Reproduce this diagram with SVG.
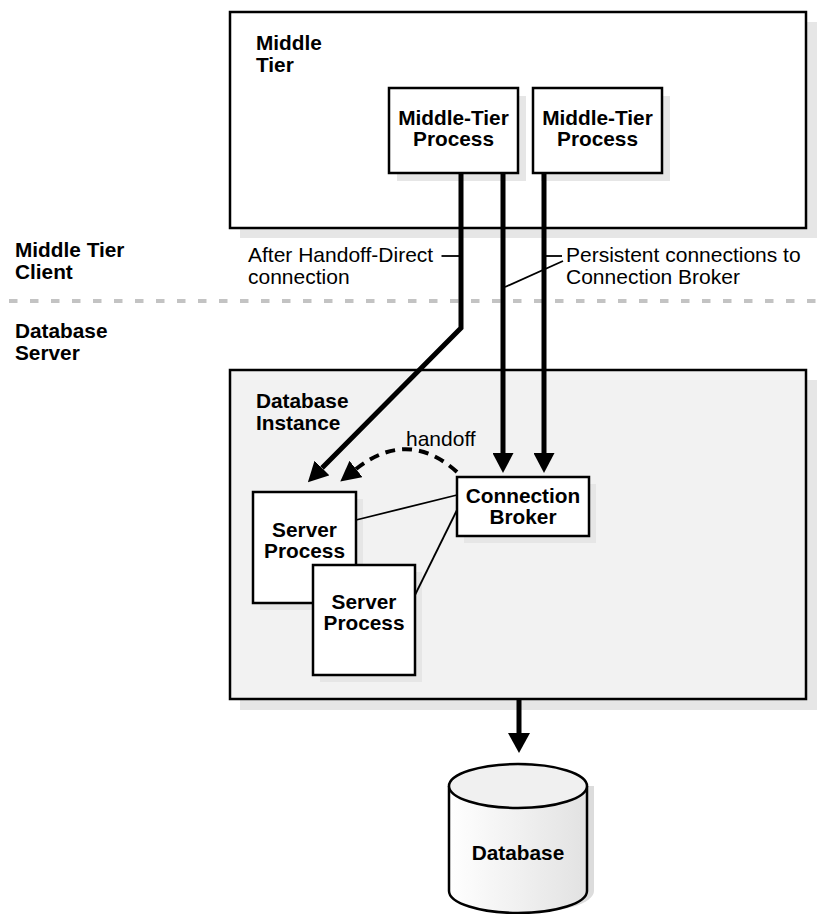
<svg xmlns="http://www.w3.org/2000/svg" width="817" height="914" viewBox="0 0 817 914">
<defs>
<style>
.b{font-family:"Liberation Sans",Arial,sans-serif;font-weight:bold;font-size:20.8px;fill:#000}
.r{font-family:"Liberation Sans",Arial,sans-serif;font-size:21px;fill:#000}
.m{text-anchor:middle}
.box{fill:#fff;stroke:#000;stroke-width:2.5}
.sh{fill:#e6e6e6}
.thick{fill:none;stroke:#000;stroke-width:5}
.thin{fill:none;stroke:#000;stroke-width:1.8}
</style>
<marker id="ah" markerUnits="userSpaceOnUse" markerWidth="20" markerHeight="21" refX="0" refY="10.5" orient="auto" viewBox="0 0 20 21">
<path d="M0,0 L20,10.5 L0,21 z" fill="#000"/>
</marker>
<marker id="ah2" markerUnits="userSpaceOnUse" markerWidth="20" markerHeight="22" refX="0" refY="11" orient="auto" viewBox="0 0 20 22">
<path d="M0,0 L20,11 L0,22 z" fill="#000"/>
</marker>
<linearGradient id="cyl" x1="0" y1="0" x2="1" y2="0">
<stop offset="0" stop-color="#ffffff"/>
<stop offset="1" stop-color="#e2e2e2"/>
</linearGradient>
</defs>
<rect width="817" height="914" fill="#fff"/>

<g id="middle-tier">
<rect class="sh" x="240" y="22" width="577" height="216"/>
<rect class="box" x="230" y="12" width="576" height="216"/>
<text class="b" x="256" y="50">Middle</text>
<text class="b" x="256" y="72">Tier</text>
</g>

<g id="mt-process-1">
<rect class="sh" x="397" y="96" width="129" height="85"/>
<rect class="box" x="389" y="88" width="129" height="85"/>
<text class="b m" x="453.5" y="125">Middle-Tier</text>
<text class="b m" x="453.5" y="146">Process</text>
</g>

<g id="mt-process-2">
<rect class="sh" x="541" y="96" width="129" height="85"/>
<rect class="box" x="533" y="88" width="129" height="85"/>
<text class="b m" x="597.5" y="125">Middle-Tier</text>
<text class="b m" x="597.5" y="146">Process</text>
</g>

<g id="zone-labels">
<text class="b" x="15" y="257">Middle Tier</text>
<text class="b" x="15" y="279">Client</text>
<line x1="9" y1="301" x2="817" y2="301" stroke="#c3c3c3" stroke-width="4" stroke-dasharray="8.5 12.5"/>
<text class="b" x="15" y="338">Database</text>
<text class="b" x="15" y="360">Server</text>
</g>

<g id="db-instance">
<rect class="sh" x="240" y="380" width="577" height="330"/>
<rect x="230" y="370" width="576" height="329" fill="#f2f2f2" stroke="#000" stroke-width="2.5"/>
<text class="b" x="256" y="408">Database</text>
<text class="b" x="256" y="430">Instance</text>
</g>

<g id="server-process-1">
<rect class="sh" x="260" y="499" width="103" height="111"/>
<rect class="box" x="253" y="492" width="103" height="111"/>
<text class="b m" x="304.5" y="537">Server</text>
<text class="b m" x="304.5" y="558">Process</text>
</g>

<g id="server-process-2">
<rect class="sh" x="320" y="572" width="102" height="110"/>
<rect class="box" x="313" y="565" width="102" height="110"/>
<text class="b m" x="364" y="609">Server</text>
<text class="b m" x="364" y="630">Process</text>
</g>

<g id="connection-broker">
<rect class="sh" x="464" y="484" width="132" height="59"/>
<rect class="box" x="457" y="477" width="132" height="59"/>
<text class="b m" x="523" y="503">Connection</text>
<text class="b m" x="523" y="524">Broker</text>
</g>

<g id="database">
<path d="M456,786 V891 A69,22 0 0 0 594,891 V786 z" fill="#dcdcdc"/>
<path d="M449,786 V891 A69,22 0 0 0 587,891 V786" fill="url(#cyl)" stroke="#000" stroke-width="2.5"/>
<ellipse cx="518" cy="786" rx="69" ry="22" fill="#f0f0f0" stroke="#000" stroke-width="2.5"/>
<text class="b m" x="518" y="860">Database</text>
</g>

<g id="connectors">
<polyline class="thick" points="461,173 461,328 322,468" marker-end="url(#ah)"/>
<line class="thick" x1="503" y1="173" x2="503" y2="453" marker-end="url(#ah)"/>
<line class="thick" x1="544" y1="173" x2="544" y2="453" marker-end="url(#ah)"/>
<path d="M457,472 Q408,428 356,469" fill="none" stroke="#000" stroke-width="4" stroke-dasharray="10 7" marker-end="url(#ah)"/>
<line class="thin" x1="457" y1="495" x2="356" y2="520"/>
<line class="thin" x1="457" y1="510" x2="415" y2="595"/>
<line class="thick" x1="519" y1="699" x2="519" y2="733" marker-end="url(#ah2)"/>
<line class="thin" x1="441.5" y1="256" x2="461" y2="256"/>
<polyline class="thin" points="546,256 562,256"/>
<line class="thin" x1="563" y1="261" x2="505" y2="287"/>
</g>

<g id="labels">
<text class="r" x="248" y="262">After Handoff-Direct</text>
<text class="r" x="248" y="284">connection</text>
<text class="r" x="566" y="262">Persistent connections to</text>
<text class="r" x="566" y="284">Connection Broker</text>
<text class="r" x="406" y="446">handoff</text>
</g>
</svg>
